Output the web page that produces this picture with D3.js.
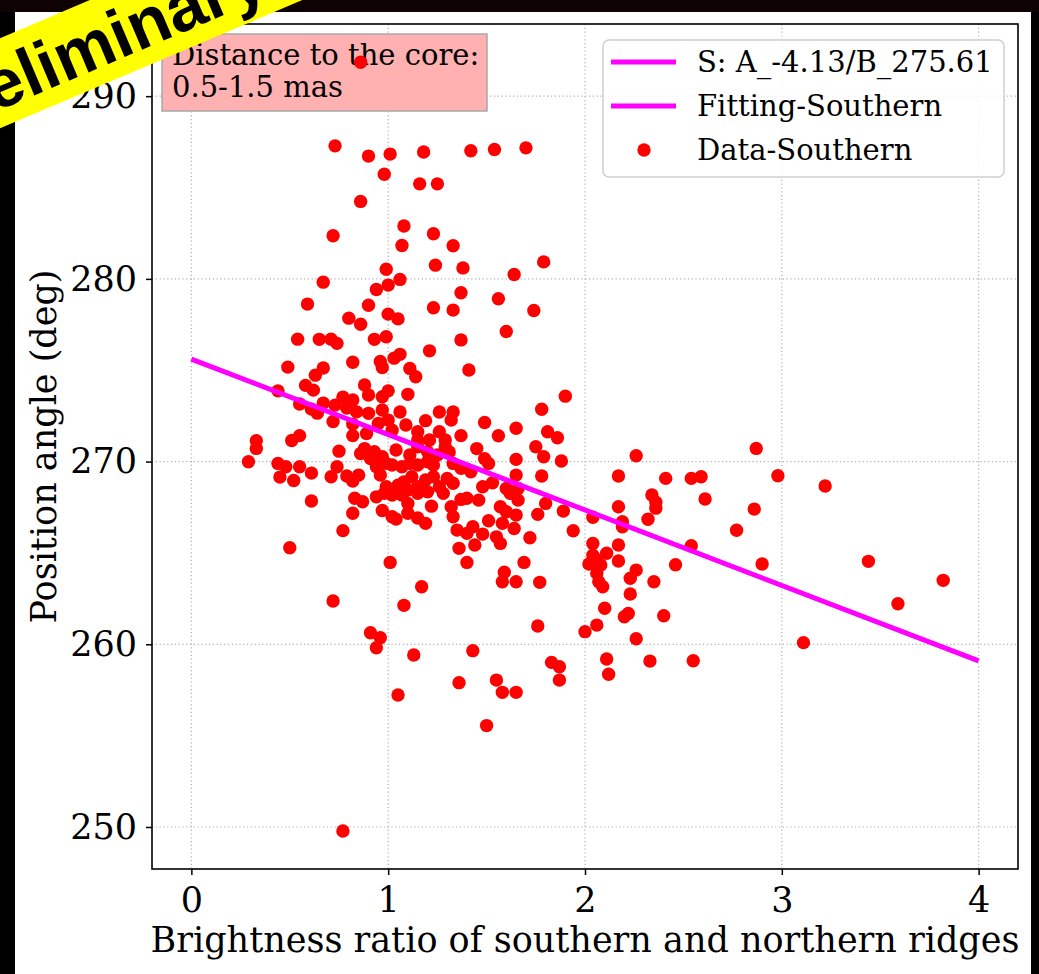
<!DOCTYPE html>
<html>
<head>
<meta charset="utf-8">
<script src="https://cdn.jsdelivr.net/npm/d3@7"></script>
<style>
  html, body { margin: 0; padding: 0; background: #000; }
  svg { display: block; }
</style>
</head>
<body>
<div id="chart"></div>
<script>
// brightness ratio (x) and position angle in deg (y)
const ratio = [
  0.86, 0.73, 0.90, 1.01, 1.18, 1.42, 1.54, 1.70, 0.98, 1.16, 1.25, 0.86, 1.08, 1.23, 0.72, 1.07,
  1.33, 1.24, 1.38, 1.79, 0.99, 1.64, 1.06, 1.00, 0.94, 0.67, 1.37, 1.56, 0.59, 0.90, 1.23, 1.33,
  1.74, 0.80, 0.86, 1.00, 1.05, 1.60, 0.54, 0.65, 0.71, 0.74, 0.93, 0.99, 1.37, 1.21, 0.82, 0.96,
  1.03, 1.06, 0.49, 0.67, 1.11, 1.41, 0.97, 0.63, 1.14, 0.44, 0.58, 0.62, 0.88, 0.90, 0.97, 1.00,
  1.10, 0.55, 0.67, 0.61, 0.64, 0.73, 0.77, 0.82, 0.79, 0.84, 0.72, 0.90, 0.97, 1.06, 0.82, 0.82,
  0.89, 0.95, 1.00, 1.02, 1.09, 1.15, 1.19, 1.15, 1.21, 1.26, 1.33, 1.32, 1.26, 1.37, 1.49, 0.51,
  0.55, 0.33, 0.33, 0.75, 0.86, 0.88, 0.93, 0.97, 0.91, 1.04, 1.11, 1.15, 1.20, 1.25, 1.29, 1.31,
  1.29, 1.45, 1.49, 0.29, 0.44, 0.48, 0.55, 0.45, 0.52, 0.61, 0.71, 0.74, 0.79, 0.82, 0.85, 0.94,
  0.96, 0.99, 1.02, 1.07, 1.11, 1.15, 1.20, 1.23, 1.33, 1.37, 1.42, 1.12, 1.15, 1.19, 1.23, 1.26,
  1.30, 1.33, 1.28, 1.20, 1.15, 1.10, 1.08, 0.99, 1.05, 1.07, 1.02, 0.98, 1.48, 1.46, 0.61, 0.83,
  0.87, 0.94, 0.82, 0.97, 1.02, 1.04, 1.10, 1.10, 1.15, 1.19, 1.22, 1.32, 1.33, 1.37, 1.40, 0.77,
  1.35, 1.40, 1.43, 1.48, 0.50, 1.01, 1.17, 0.72, 1.08, 1.90, 1.78, 1.56, 1.65, 1.81, 1.86, 1.75,
  1.51, 1.65, 1.79, 1.88, 1.65, 1.78, 1.53, 1.60, 1.62, 1.66, 1.66, 1.80, 1.89, 1.57, 1.60, 1.65,
  1.76, 1.51, 1.58, 1.64, 1.55, 1.57, 1.72, 1.44, 1.36, 1.94, 1.40, 1.69, 1.59, 1.58, 1.65, 1.77,
  1.43, 1.76, 1.36, 1.55, 1.58, 1.65, 1.83, 1.87, 1.87, 1.50, 2.00, 2.04, 2.04, 2.11, 2.04, 2.02,
  2.06, 2.08, 2.06, 2.07, 2.09, 2.17, 2.17, 2.17, 2.17, 2.19, 2.19, 2.26, 2.23, 2.26, 2.23, 2.20,
  2.22, 2.10, 2.06, 2.26, 2.11, 2.12, 2.33, 2.41, 2.34, 2.36, 2.36, 2.32, 2.35, 2.40, 2.54, 2.59,
  2.61, 2.54, 2.46, 2.55, 2.77, 2.87, 2.98, 3.22, 2.86, 2.90, 3.44, 3.82, 3.59, 3.11, 0.91, 0.96,
  0.94, 1.13, 1.05, 0.77
];
const angle = [
  291.86, 287.28, 286.72, 286.83, 286.94, 287.01, 287.08, 287.17, 285.73, 285.20, 285.20, 284.24, 282.89, 282.47, 282.36, 281.83,
  281.81, 280.75, 280.60, 280.93, 280.53, 280.24, 279.97, 279.66, 279.42, 279.82, 279.24, 278.91, 278.62, 278.56, 278.42, 278.29,
  278.27, 277.85, 277.52, 278.07, 277.81, 277.12, 276.70, 276.69, 276.70, 276.47, 276.69, 276.83, 276.66, 276.06, 275.44, 275.48,
  275.66, 275.87, 275.17, 275.12, 275.10, 275.01, 275.15, 274.73, 274.64, 273.87, 274.17, 273.91, 274.19, 273.64, 273.55, 273.87,
  273.68, 273.15, 273.20, 272.87, 272.65, 273.09, 273.53, 273.37, 272.93, 272.72, 272.19, 272.64, 272.82, 272.71, 272.05, 271.42,
  271.54, 272.09, 272.27, 271.72, 272.00, 271.63, 272.24, 271.18, 271.18, 272.71, 272.71, 272.27, 271.63, 271.42, 272.14, 271.15,
  271.42, 271.14, 270.72, 270.57, 270.44, 270.71, 270.54, 270.26, 270.17, 270.63, 270.36, 270.81, 270.54, 270.36, 270.81, 270.52,
  271.18, 270.71, 270.16, 269.99, 269.90, 269.72, 269.72, 269.15, 268.96, 269.37, 269.17, 269.72, 269.21, 268.93, 269.26, 269.72,
  269.26, 269.90, 269.81, 269.72, 269.90, 269.81, 269.99, 269.81, 269.90, 269.63, 269.44, 269.17, 268.62, 268.99, 269.17, 268.62,
  269.08, 268.81, 268.26, 268.35, 268.26, 268.44, 268.89, 268.62, 268.71, 268.17, 268.17, 268.26, 268.62, 267.89, 267.84, 267.99,
  267.80, 268.07, 267.17, 267.32, 266.98, 266.85, 267.71, 267.17, 266.91, 266.62, 267.56, 267.53, 266.98, 267.93, 267.99, 266.22,
  266.25, 266.07, 266.43, 266.03, 265.28, 264.48, 263.15, 262.37, 262.13, 273.58, 272.86, 271.41, 271.82, 271.63, 271.30, 270.81,
  269.90, 270.12, 270.26, 270.03, 269.26, 269.21, 268.84, 268.53, 268.26, 268.53, 267.89, 267.71, 267.29, 267.53, 267.25, 267.07,
  267.11, 266.76, 266.62, 266.34, 265.88, 265.52, 265.83, 265.43, 265.25, 266.21, 264.48, 264.48, 263.94, 263.42, 263.42, 263.39,
  259.65, 261.00, 257.90, 258.04, 257.37, 257.37, 259.01, 258.77, 258.04, 255.55, 260.69, 266.95, 265.52, 264.98, 264.88, 264.39,
  264.61, 264.34, 263.88, 263.42, 263.15, 265.43, 264.56, 269.21, 267.53, 266.71, 266.43, 270.32, 263.61, 264.06, 262.75, 261.51,
  261.69, 261.97, 261.05, 260.30, 259.19, 258.36, 259.08, 269.08, 268.17, 267.78, 267.45, 266.84, 263.42, 261.56, 269.08, 269.17,
  267.95, 265.39, 264.35, 259.10, 266.24, 270.72, 269.22, 268.66, 267.40, 264.39, 264.54, 263.50, 262.22, 260.09, 260.63, 260.36,
  259.81, 259.41, 257.22, 249.78
];

// linear fit given in the legend: angle = A * ratio + B
const fitA = -4.13;
const fitB = 275.61;
const fitRange = [0, 4];

const xTicks = [0, 1, 2, 3, 4];
const yTicks = [250, 260, 270, 280, 290];

const legendLabels = ["S: A_-4.13/B_275.61", "Fitting-Southern", "Data-Southern"];
const noteLines = ["Distance to the core:", "0.5-1.5 mas"];

const W = 1039, H = 974;
const serif = "'DejaVu Serif', serif";

let chart = () => {
    const points = ratio.map((r, i) => ({ r: r, a: angle[i] }));
    const fitLine = fitRange.map(r => ({ r: r, a: fitA * r + fitB }));

    const left = 152, right = 1018, top = 24, bottom = 869;

    const x = d3.scaleLinear().domain([-0.2, 4.2]).range([left, right]);
    const y = d3.scaleLinear().domain([247.7, 293.95]).range([bottom, top]);

    const svg = d3.create("svg")
        .attr("viewBox", [0, 0, W, H])
        .attr("width", W)
        .attr("height", H);

    // dark frame round a white figure
    svg.append("rect").attr("width", W).attr("height", H).attr("fill", "#000");
    svg.append("rect").attr("width", W).attr("height", 12).attr("fill", "#0e0202");
    svg.append("rect")
        .attr("x", 15).attr("y", 12)
        .attr("width", 1016).attr("height", H - 12)
        .attr("fill", "#fff");

    // grid
    const grid = svg.append("g")
        .attr("stroke", "#b0b0b0")
        .attr("stroke-width", 1.2)
        .attr("stroke-dasharray", "1.2,2.6");
    grid.selectAll("line.vx")
        .data(xTicks)
        .join("line")
        .attr("class", "vx")
        .attr("x1", d => x(d)).attr("x2", d => x(d))
        .attr("y1", top).attr("y2", bottom);
    grid.selectAll("line.hy")
        .data(yTicks)
        .join("line")
        .attr("class", "hy")
        .attr("x1", left).attr("x2", right)
        .attr("y1", d => y(d)).attr("y2", d => y(d));

    // note box (sits under the points)
    const note = svg.append("g");
    note.append("rect")
        .attr("x", 162).attr("y", 34)
        .attr("width", 325).attr("height", 77)
        .attr("fill", "#ffb0b0")
        .attr("stroke", "#a8a8a8")
        .attr("stroke-width", 1.5);
    note.selectAll("text")
        .data(noteLines)
        .join("text")
        .attr("x", 172)
        .attr("y", (d, i) => 65 + i * 32)
        .attr("font-family", serif)
        .attr("font-size", 29)
        .attr("fill", "#000")
        .text(d => d);

    // scatter
    svg.append("g")
        .attr("fill", "#ff0000")
        .selectAll("circle")
        .data(points)
        .join("circle")
        .attr("cx", d => x(d.r))
        .attr("cy", d => y(d.a))
        .attr("r", 6.7);

    // fit line
    svg.append("path")
        .datum(fitLine)
        .attr("fill", "none")
        .attr("stroke", "#ff00ff")
        .attr("stroke-width", 5)
        .attr("d", d3.line().x(d => x(d.r)).y(d => y(d.a)));

    // axes
    const xAxis = svg.append("g")
        .attr("transform", `translate(0,${bottom})`)
        .call(d3.axisBottom(x).tickValues(xTicks).tickFormat(d3.format("d")).tickSize(6).tickPadding(12).tickSizeOuter(0));
    const yAxis = svg.append("g")
        .attr("transform", `translate(${left},0)`)
        .call(d3.axisLeft(y).tickValues(yTicks).tickFormat(d3.format("d")).tickSize(6).tickPadding(9).tickSizeOuter(0));
    [xAxis, yAxis].forEach(ax => {
        ax.select(".domain").remove();
        ax.selectAll(".tick line").attr("stroke", "#000").attr("stroke-width", 1.5);
        ax.selectAll(".tick text")
            .attr("font-family", serif)
            .attr("font-size", 35)
            .attr("fill", "#000");
    });

    svg.append("rect")
        .attr("x", left).attr("y", top)
        .attr("width", right - left).attr("height", bottom - top)
        .attr("fill", "none")
        .attr("stroke", "#000")
        .attr("stroke-width", 1.6);

    svg.append("text")
        .attr("x", (left + right) / 2)
        .attr("y", 952)
        .attr("text-anchor", "middle")
        .attr("font-family", serif)
        .attr("font-size", 35)
        .text("Brightness ratio of southern and northern ridges");

    svg.append("text")
        .attr("transform", `translate(56,${(top + bottom) / 2}) rotate(-90)`)
        .attr("text-anchor", "middle")
        .attr("font-family", serif)
        .attr("font-size", 35)
        .text("Position angle (deg)");

    // legend
    const legend = svg.append("g");
    legend.append("rect")
        .attr("x", 603).attr("y", 40)
        .attr("width", 401).attr("height", 137)
        .attr("rx", 6)
        .attr("fill", "rgba(255,255,255,0.8)")
        .attr("stroke", "#d0d0d0")
        .attr("stroke-width", 1.5);
    const rows = legend.selectAll("g")
        .data(legendLabels)
        .join("g")
        .attr("transform", (d, i) => `translate(0,${62 + i * 44})`);
    rows.filter((d, i) => i < 2).append("line")
        .attr("x1", 611).attr("x2", 676)
        .attr("stroke", "#ff00ff")
        .attr("stroke-width", 5);
    rows.filter((d, i) => i === 2).append("circle")
        .attr("cx", 644)
        .attr("r", 6.7)
        .attr("fill", "#ff0000");
    rows.append("text")
        .attr("x", 697)
        .attr("dy", "0.36em")
        .attr("font-family", serif)
        .attr("font-size", 29)
        .attr("fill", "#000")
        .text(d => d);

    // "Preliminary" banner over the top-left corner
    const banner = svg.append("g")
        .attr("transform", "translate(-71,140) rotate(-23)");
    banner.append("rect")
        .attr("x", -300).attr("y", -66)
        .attr("width", 1000).attr("height", 83)
        .attr("fill", "#ffff00");
    banner.append("text")
        .attr("x", 0).attr("y", 0)
        .attr("font-family", "'Liberation Sans', Arial, sans-serif")
        .attr("font-weight", "bold")
        .attr("font-size", 68)
        .attr("fill", "#000")
        .text("Preliminary");

    return svg.node();
};

document.getElementById("chart").appendChild(chart());
</script>
</body>
</html>
